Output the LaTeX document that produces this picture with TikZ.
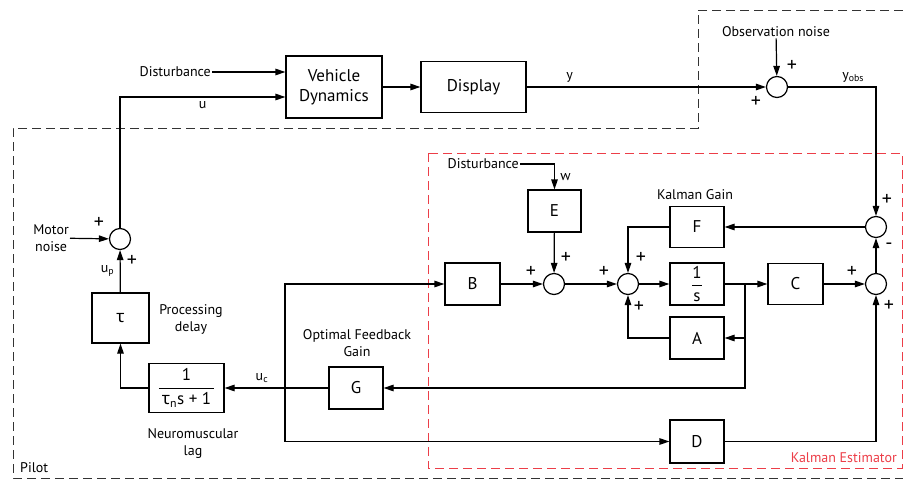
\documentclass[tikz,border=0pt]{standalone}
\usepackage{amsmath}
\usepackage{fontspec}
\setmainfont{PT Sans}
\newfontfamily\grk{Noto Sans}
\usetikzlibrary{positioning, arrows.meta}
\definecolor{estred}{RGB}{236,62,72}
\newcommand{\boxfont}{\fontsize{17}{20}\selectfont}
\newcommand{\lblfont}{\fontsize{14}{17}\selectfont}
\newcommand{\sgnfont}{\fontsize{20}{22}\selectfont}

\begin{document}
\begin{tikzpicture}[
    x=1pt, y=-1pt,
    font=\lblfont,
    block/.style={rectangle, draw, line width=1.2pt, minimum width=54pt, minimum height=42pt, inner sep=0pt, align=center, font=\boxfont},
    sumnode/.style={circle, draw, line width=1.2pt, minimum size=21pt, inner sep=0pt},
    arrow/.style={-{Triangle[length=10pt, width=6.5pt]}, line width=1.2pt},
    wire/.style={line width=1.2pt},
    sgn/.style={font=\sgnfont, inner sep=0pt},
    region/.style={line width=1pt, dash pattern=on 9pt off 5pt},
    lbl/.style={font=\lblfont, align=center, inner sep=1pt}
]
\useasboundingbox (0,0) rectangle (903,479);

% Pilot and Kalman regions
\draw[region, black!80] (903,10) -- (698,10) -- (698,128) -- (13,128) -- (13,478) -- (903,478);
\draw[region, estred] (428,153) rectangle (902,468);

% Vehicle and display
\node[block, minimum width=96pt, minimum height=62pt] (vd) at (334,87) {Vehicle\\Dynamics};
\node[block, minimum width=105pt, minimum height=51pt] (disp) at (473.5,87) {Display};
\node[lbl, anchor=east] (dist) at (212,72) {Disturbance};
\node[lbl] (obs) at (776,32) {Observation noise};
\node[sumnode] (so) at (777,87) {};

% Pilot
\node[sumnode] (sm) at (120,239) {};
\node[lbl, anchor=east] (motor) at (70,238) {Motor\\noise};
\node[block, minimum width=57pt, minimum height=50pt] (tau) at (120.5,318) {\grk τ};
\node[block, minimum width=75pt, minimum height=49pt] (lag) at (186.5,388) {$\dfrac{\text{1}}{\,\text{\grk τ}_{\text{n}}\text{s + 1}\,}$};
\node[block] (G) at (356,388) {G};
\node[lbl] at (357,343) {Optimal Feedback\\Gain};
\node[lbl] at (191,319) {Processing\\delay};
\node[lbl] at (193,444) {Neuromuscular\\lag};
\node[lbl, anchor=west] at (19,468) {Pilot};

% Kalman estimator
\node[block, minimum width=55pt] (B) at (472.5,284) {B};
\node[block, minimum width=53pt] (E) at (554.5,211) {E};
\node[sumnode] (s1) at (554,284) {};
\node[sumnode] (s2) at (628,284) {};
\node[block] (int) at (697,284) {$\dfrac{\text{1}}{\text{s}}$};
\node[block, minimum height=41pt] (F) at (697,227) {F};
\node[block] (A) at (697,338) {A};
\node[block, minimum width=55pt, minimum height=41pt] (C) at (795.5,284) {C};
\node[block, minimum height=43pt] (D) at (697,441.5) {D};
\node[sumnode] (s3) at (876,284) {};
\node[sumnode] (s4) at (876,227) {};
\node[lbl, anchor=east] (dist2) at (520,164) {Disturbance};
\node[lbl] at (695,195) {Kalman Gain};
\node[lbl, text=estred, anchor=east] at (898,458) {Kalman Estimator};

% Branch points
\coordinate (br) at (745,284);
\coordinate (uc) at (285,388);
\coordinate (vdu) at ([yshift=-10pt]vd.west);

% Connectors - plant
\draw[arrow] (dist) -- (dist -| vd.west);
\draw[arrow] (sm) |- node[pos=0.75, below=1pt] {u} (vdu);
\draw[arrow] (vd) -- (disp);
\draw[arrow] (disp) -- node[pos=0.18, above=1pt] {y} (so);
\draw[arrow] (obs) -- (so);
\draw[arrow] (so) -| node[pos=0.37, above=1pt] {y\textsubscript{obs}} (s4);

% Connectors - pilot
\draw[arrow] (motor) -- (sm);
\draw[arrow] (tau) -- node[left=2pt] {u\textsubscript{p}} (sm);
\draw[arrow] (lag) -| (tau);
\draw[arrow] (G) -- node[pos=0.64, above=1pt] {u\textsubscript{c}} (lag);
\draw[arrow] (uc) |- (B);
\draw[arrow] (uc) |- (D);

% Connectors - estimator
\draw[arrow] (dist2) -| node[pos=0.75, right=2pt] {w} (E);
\draw[arrow] (B) -- (s1);
\draw[arrow] (E) -- (s1);
\draw[arrow] (s1) -- (s2);
\draw[arrow] (s2) -- (int);
\draw[wire] (int) -- (br);
\draw[arrow] (br) -- (C);
\draw[arrow] (br) |- (A);
\draw[arrow] (br) |- (G);
\draw[arrow] (A) -| (s2);
\draw[arrow] (F) -| (s2);
\draw[arrow] (s4) -- (F);
\draw[arrow] (C) -- (s3);
\draw[arrow] (s3) -- (s4);
\draw[arrow] (D) -| (s3);

% Signs
\node[sgn] at (792,66) {+};
\node[sgn] at (756,102) {+};
\node[sgn] at (99,223) {+};
\node[sgn] at (132,261) {+};
\node[sgn] at (531,272) {+};
\node[sgn] at (566,258) {+};
\node[sgn] at (604,272) {+};
\node[sgn] at (641,258) {+};
\node[sgn] at (639,307) {+};
\node[sgn] at (852,272) {+};
\node[sgn] at (889,306) {+};
\node[sgn] at (887,200) {+};
\node[sgn] at (889,246) {-};

\end{tikzpicture}
\end{document}
